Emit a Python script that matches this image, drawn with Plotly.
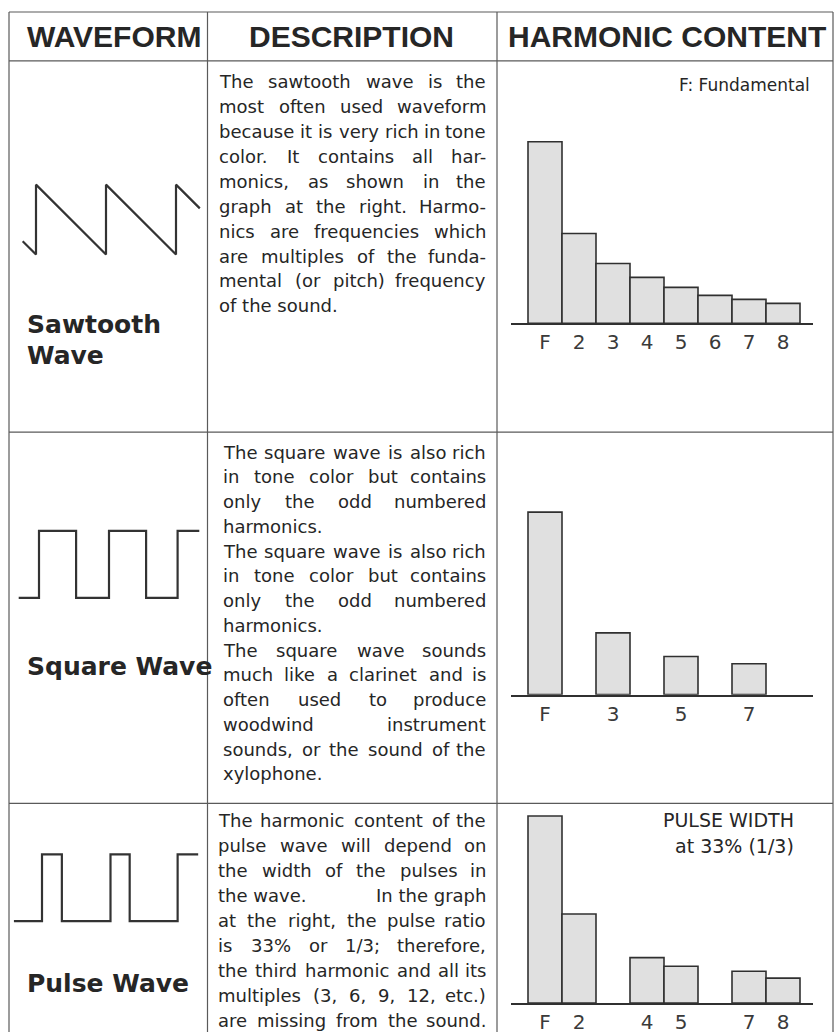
import plotly.graph_objects as go

W, H = 835, 1034

# ---- data ----
headers = ["WAVEFORM", "DESCRIPTION", "HARMONIC CONTENT"]

# waveform sketches: time in periods, amplitude
saw_t = [-0.19, 0, 0, 1, 1, 2, 2, 2.34]
saw_amp = [-0.62, -1, 1, -1, 1, -1, 1, 0.32]
square_t = [-0.29, 0, 0, 0.53, 0.53, 1.0, 1.0, 1.53, 1.53, 1.98, 1.98, 2.29]
square_amp = [0, 0, 1, 1, 0, 0, 1, 1, 0, 0, 1, 1]
pulse_t = [-0.41, 0, 0, 0.29, 0.29, 1.0, 1.0, 1.28, 1.28, 1.98, 1.98, 2.28]
pulse_amp = [0, 0, 1, 1, 0, 0, 1, 1, 0, 0, 1, 1]

# harmonic content (relative level, fundamental ~100)
saw_harm = [1, 2, 3, 4, 5, 6, 7, 8]
saw_level = [100, 49.5, 33, 25.3, 19.8, 15.4, 13.2, 11]
saw_ticks = ["F", "2", "3", "4", "5", "6", "7", "8"]

square_harm = [1, 3, 5, 7]
square_level = [100.5, 34, 21, 17]
square_ticks = ["F", "3", "5", "7"]

pulse_harm = [1, 2, 4, 5, 7, 8]
pulse_level = [103, 49, 25, 20.3, 17.5, 13.7]
pulse_ticks = ["F", "2", "4", "5", "7", "8"]

saw_desc = ["The sawtooth wave is the",
            "most often used waveform",
            "because it is very rich in tone",
            "color. It contains all har-",
            "monics, as shown in the",
            "graph at the right. Harmo-",
            "nics are frequencies which",
            "are multiples of the funda-",
            "mental (or pitch) frequency",
            "of the sound."]
saw_just = [1, 1, 1, 1, 1, 1, 1, 1, 1, 0]

square_desc = ["The square wave is also rich",
               "in tone color but contains",
               "only the odd numbered",
               "harmonics.",
               "The square wave is also rich",
               "in tone color but contains",
               "only the odd numbered",
               "harmonics.",
               "The square wave sounds",
               "much like a clarinet and is",
               "often used to produce",
               "woodwind instrument",
               "sounds, or the sound of the",
               "xylophone."]
square_just = [1, 1, 1, 0, 1, 1, 1, 0, 1, 1, 1, 1, 1, 0]

pulse_desc = ["The harmonic content of the",
              "pulse wave will depend on",
              "the width of the pulses in",
              "the wave.  In the graph",
              "at the right, the pulse ratio",
              "is 33% or 1/3; therefore,",
              "the third harmonic and all its",
              "multiples (3, 6, 9, 12, etc.)",
              "are missing from the sound."]
pulse_just = [1, 1, 1, 1, 1, 1, 1, 1, 1]

# DejaVu Sans advance widths (units of 2048) for justifying lines
DV = {" ": 651, ",": 651, "-": 739, ".": 651, "(": 799, ")": 799, "%": 1946,
      "/": 690, ";": 690, ":": 690,
      "a": 1255, "b": 1300, "c": 1126, "d": 1300, "e": 1260, "f": 721,
      "g": 1300, "h": 1298, "i": 569, "j": 569, "k": 1186, "l": 569,
      "m": 1995, "n": 1298, "o": 1253, "p": 1300, "q": 1300, "r": 842,
      "s": 1067, "t": 803, "u": 1298, "v": 1212, "w": 1675, "x": 1212,
      "y": 1212, "z": 1075, "H": 1540, "I": 604, "T": 1251}


def text_w(s, size):
    return sum(DV.get(c, 1303) for c in s) / 2048 * size


def px_dom_x(a, b):
    return [a / W, b / W]


def px_dom_y(top, bottom):
    return [1 - bottom / H, 1 - top / H]


fig = go.Figure()
annotations = []
shapes = []

INK = "#262626"
LINE = "#5a5a5a"

# ---- table grid (pixel axis x/y) ----
fig.add_trace(go.Scatter(x=[0], y=[0], mode="markers", marker=dict(opacity=0),
                         hoverinfo="skip", xaxis="x", yaxis="y"))
for yy in [12, 61, 433, 805]:
    shapes.append(dict(type="line", xref="x", yref="y", x0=9, x1=833, y0=yy, y1=yy,
                       line=dict(color=LINE, width=1.2)))
for xx in [9, 207.5, 497, 833]:
    shapes.append(dict(type="line", xref="x", yref="y", x0=xx, x1=xx, y0=12, y1=H,
                       line=dict(color=LINE, width=1.2)))

# headers
for txt, cx in zip(headers, [114, 351.5, 667]):
    annotations.append(dict(text=txt, x=cx, y=37, xref="x", yref="y", showarrow=False,
                            xanchor="center", yanchor="middle",
                            font=dict(family="Liberation Sans, Arial", size=30,
                                      color=INK, weight="bold")))

# waveform names
for txt, yy in [("Sawtooth", 325.5), ("Wave", 356.5), ("Square Wave", 667.5),
                ("Pulse Wave", 985.5)]:
    annotations.append(dict(text=txt, x=25, y=yy, xref="x", yref="y", showarrow=False,
                            xanchor="left", yanchor="middle",
                            font=dict(family="DejaVu Sans", size=25, color=INK,
                                      weight="bold")))


# description text, justified
def add_block(lines, just, left, right, y0, step, size=18):
    for i, (line, j) in enumerate(zip(lines, just)):
        y = y0 + i * step
        font = dict(family="DejaVu Sans", size=size, color=INK)
        units = line.split("  ") if "  " in line else line.split(" ")
        if not j or len(units) == 1:
            annotations.append(dict(text=line, x=left, y=y, xref="x", yref="y",
                                    showarrow=False, xanchor="left", yanchor="middle",
                                    font=font, borderpad=0))
            continue
        widths = [text_w(u, size) for u in units]
        gap = (right - left - sum(widths)) / (len(units) - 1)
        x = left
        for k, u in enumerate(units):
            if k == len(units) - 1:
                annotations.append(dict(text=u, x=right, y=y, xref="x", yref="y",
                                        showarrow=False, xanchor="right",
                                        yanchor="middle", font=font, borderpad=0))
            else:
                annotations.append(dict(text=u, x=x, y=y, xref="x", yref="y",
                                        showarrow=False, xanchor="left",
                                        yanchor="middle", font=font, borderpad=0))
            x += widths[k] + gap


add_block(saw_desc, saw_just, 218, 486.5, 81.5, 25)
add_block(square_desc, square_just, 222, 487, 453, 24.8)
add_block(pulse_desc, pulse_just, 217, 487, 822.5, 25)

# ---- waveform sketches ----
# (trace data, axis index, pixel box, pixel origin (t=0, amp=0), px per unit t, px per unit amp)
waves = [
    (saw_t, saw_amp, 2, (12, 205, 175, 265), (36, 220), 70, 35),
    (square_t, square_amp, 3, (10, 205, 525, 606), (39, 599), 70, 67),
    (pulse_t, pulse_amp, 4, (10, 205, 850, 930), (42, 923), 68.5, 67),
]
layout_axes = {}
for t, a, k, (x0, x1, y0, y1), (ox, oy), sx, sy in waves:
    fig.add_trace(go.Scatter(x=t, y=a, mode="lines", xaxis=f"x{k}", yaxis=f"y{k}",
                             line=dict(color="#333333", width=2.2), hoverinfo="skip"))
    layout_axes[f"xaxis{k}"] = dict(domain=px_dom_x(x0, x1),
                                    range=[(x0 - ox) / sx, (x1 - ox) / sx],
                                    visible=False, anchor=f"y{k}")
    layout_axes[f"yaxis{k}"] = dict(domain=px_dom_y(y0, y1),
                                    range=[(oy - y1) / sy, (oy - y0) / sy],
                                    visible=False, anchor=f"x{k}")

# ---- harmonic bar charts ----
BAR_X0, BAR_X1 = 511, 813   # pixel extent of baseline
HARM_PX = 34                # pixels per harmonic
LEVEL_PX = 1.82             # pixels per level unit
bars = [
    (saw_harm, saw_level, saw_ticks, 5, 324),
    (square_harm, square_level, square_ticks, 6, 696),
    (pulse_harm, pulse_level, pulse_ticks, 7, 1005),
]
for hx, lv, tk, k, base in bars:
    fig.add_trace(go.Bar(x=hx, y=lv, width=1, xaxis=f"x{k}", yaxis=f"y{k}",
                         marker=dict(color="#e0e0e0", line=dict(color="#303030", width=1.6)),
                         hoverinfo="skip"))
    top = base - 200
    layout_axes[f"xaxis{k}"] = dict(domain=px_dom_x(BAR_X0, BAR_X1),
                                    range=[0, (BAR_X1 - BAR_X0) / HARM_PX],
                                    anchor=f"y{k}", showline=True, linecolor="#303030",
                                    linewidth=2, showgrid=False, zeroline=False,
                                    ticks="", tickvals=hx, ticktext=tk,
                                    tickfont=dict(family="DejaVu Sans", size=20,
                                                  color="#3a3a3a"))
    layout_axes[f"yaxis{k}"] = dict(domain=px_dom_y(top, base),
                                    range=[0, 200 / LEVEL_PX], visible=False,
                                    anchor=f"x{k}")

annotations.append(dict(text="F: Fundamental", x=812, y=85, xref="x", yref="y",
                        showarrow=False, xanchor="right", yanchor="middle",
                        font=dict(family="DejaVu Sans", size=17, color=INK)))
annotations.append(dict(text="PULSE WIDTH", x=796, y=822, xref="x", yref="y",
                        showarrow=False, xanchor="right", yanchor="middle",
                        font=dict(family="DejaVu Sans", size=19, color=INK)))
annotations.append(dict(text="at 33% (1/3)", x=796, y=847.5, xref="x", yref="y",
                        showarrow=False, xanchor="right", yanchor="middle",
                        font=dict(family="DejaVu Sans", size=19, color=INK)))

fig.update_layout(
    width=W, height=H,
    margin=dict(l=0, r=0, t=0, b=0),
    paper_bgcolor="white", plot_bgcolor="rgba(0,0,0,0)",
    showlegend=False,
    xaxis=dict(domain=[0, 1], range=[0, W], visible=False),
    yaxis=dict(domain=[0, 1], range=[H, 0], visible=False),
    shapes=shapes, annotations=annotations,
    **layout_axes,
)

fig.write_html("out.html", config={"displayModeBar": False},
               post_script="document.body.style.margin='0';")
